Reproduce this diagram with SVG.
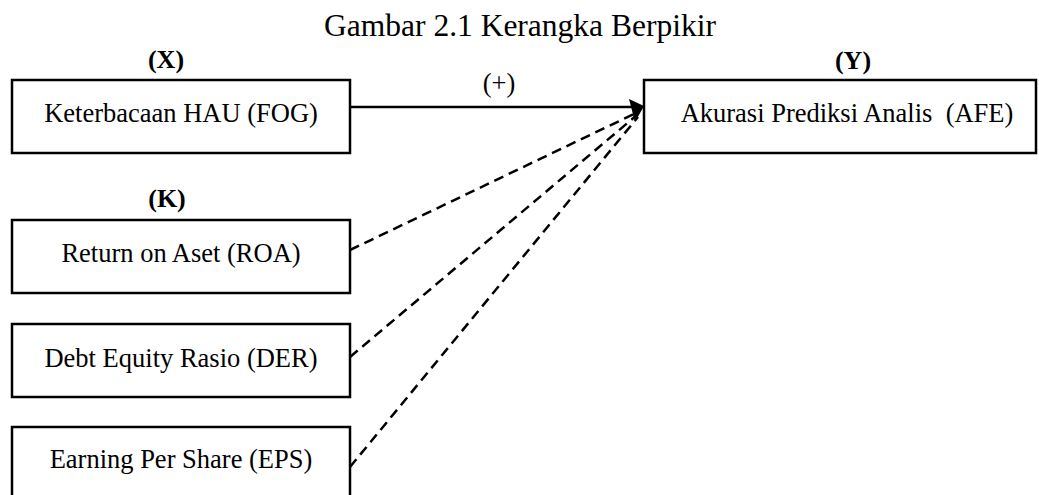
<svg xmlns="http://www.w3.org/2000/svg" width="1039" height="495" viewBox="0 0 1039 495">
<style>
text{font-family:"Liberation Serif","Times New Roman",serif;fill:#000;text-anchor:middle}
.lbl{font-size:26.5px}
.hd{font-size:26px;font-weight:bold}
.title{font-size:31.5px}
.box{fill:#fff;stroke:#000;stroke-width:2.5}
.solid{stroke:#000;stroke-width:2.5;fill:none}
.dash{stroke:#000;stroke-width:2.5;fill:none;stroke-dasharray:10 6}
</style>
<rect width="1039" height="495" fill="#fff"/>
<text class="title" x="520" y="36">Gambar 2.1 Kerangka Berpikir</text>
<text class="hd" x="166" y="68">(X)</text>
<text class="hd" x="853" y="69">(Y)</text>
<text class="hd" x="167" y="207">(K)</text>
<g id="connectors">
<line class="solid" x1="350" y1="107" x2="632" y2="107"/>
<line class="dash" x1="350" y1="250" x2="636" y2="113"/>
<line class="dash" x1="350" y1="357" x2="637" y2="115"/>
<line class="dash" x1="350" y1="467" x2="638" y2="117"/>
<polygon points="629,99 644,106 635,122" fill="#000"/>
<text class="lbl" x="499" y="92">(+)</text>
</g>
<g id="node-fog">
<rect class="box" x="12" y="80" width="338" height="73"/>
<text class="lbl" x="181" y="122">Keterbacaan HAU (FOG)</text>
</g>
<g id="node-afe">
<rect class="box" x="644" y="80" width="392" height="73"/>
<text class="lbl" x="847" y="122" xml:space="preserve" style="white-space:pre">Akurasi Prediksi Analis  (AFE)</text>
</g>
<g id="node-roa">
<rect class="box" x="12" y="220" width="338" height="73"/>
<text class="lbl" x="181" y="262">Return on Aset (ROA)</text>
</g>
<g id="node-der">
<rect class="box" x="12" y="324" width="338" height="73"/>
<text class="lbl" x="181" y="367">Debt Equity Rasio (DER)</text>
</g>
<g id="node-eps">
<rect class="box" x="12" y="427" width="338" height="73"/>
<text class="lbl" x="181" y="468">Earning Per Share (EPS)</text>
</g>
</svg>
